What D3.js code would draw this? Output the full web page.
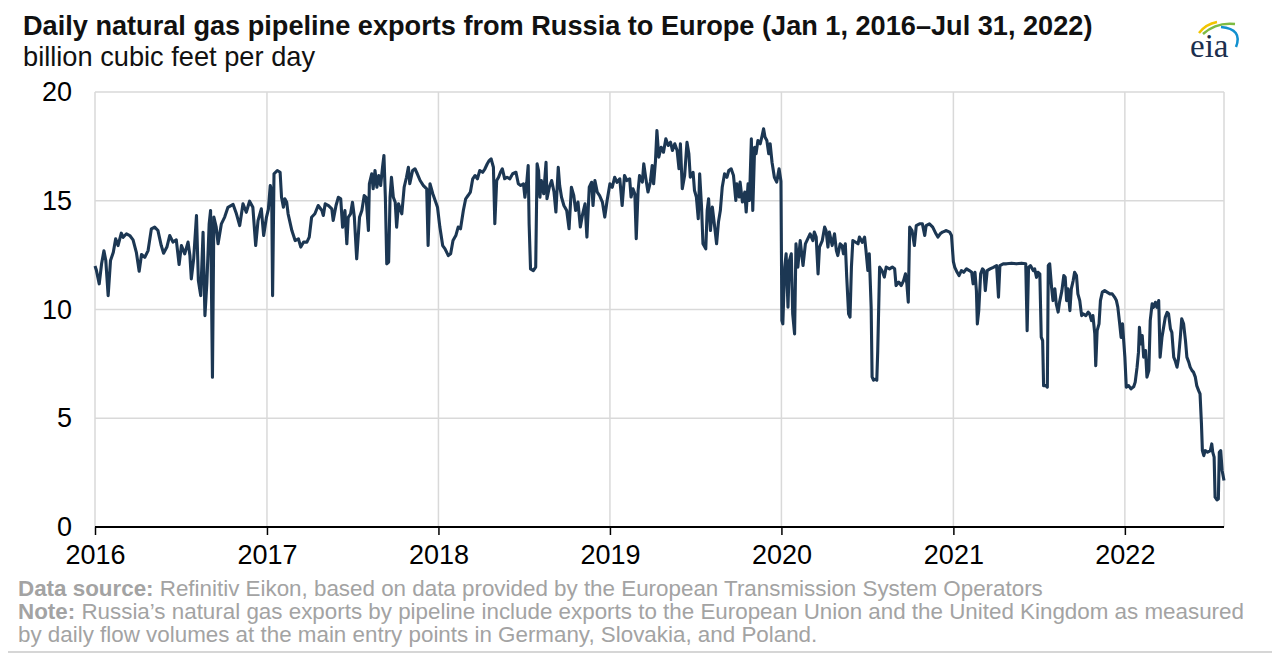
<!DOCTYPE html>
<html>
<head>
<meta charset="utf-8">
<script src="https://cdn.jsdelivr.net/npm/d3@7"></script>
<style>
  html, body { margin: 0; padding: 0; background: #fff; }
  svg { display: block; font-family: "Liberation Sans", Arial, sans-serif; }
</style>
</head>
<body>
<svg id="chart" width="1280" height="661"></svg>
<script>
// ---------------- data ----------------
const titleText = "Daily natural gas pipeline exports from Russia to Europe (Jan 1, 2016\u2013Jul 31, 2022)";
const subtitleText = "billion cubic feet per day";
const sourceLabel = "Data source:";
const sourceText = " Refinitiv Eikon, based on data provided by the European Transmission System Operators";
const noteLabel = "Note:";
const noteLine1 = " Russia\u2019s natural gas exports by pipeline include exports to the European Union and the United Kingdom as measured";
const noteLine2 = "by daily flow volumes at the main entry points in Germany, Slovakia, and Poland.";

const yearTickLabels = ["2016", "2017", "2018", "2019", "2020", "2021", "2022"];
const yTickValues = [0, 5, 10, 15, 20];

const y2016 = [
  ["2016-01-01",12.0],["2016-01-04",11.8],["2016-01-10",11.18],["2016-01-15",12.1],["2016-01-20",12.7],
  ["2016-01-24",12.25],["2016-01-29",10.64],["2016-02-03",12.25],["2016-02-09",12.63],["2016-02-14",13.25],
  ["2016-02-19",12.94],["2016-02-26",13.51],["2016-03-01",13.32],["2016-03-08",13.48],["2016-03-15",13.4],
  ["2016-03-22",13.2],["2016-03-29",12.63],["2016-04-04",11.76],["2016-04-09",12.53],["2016-04-16",12.4],
  ["2016-04-23",12.71],["2016-04-30",13.71],["2016-05-07",13.79],["2016-05-14",13.63],["2016-05-21",12.94],
  ["2016-05-26",12.59],["2016-06-02",12.87],["2016-06-08",13.4],["2016-06-15",13.1],["2016-06-22",13.2],
  ["2016-06-28",12.07],["2016-07-03",12.94],["2016-07-10",12.56],["2016-07-17",13.1],["2016-07-21",12.48],
  ["2016-07-24",11.41],["2016-07-29",12.33],["2016-08-04",14.32],["2016-08-08",11.33],["2016-08-13",10.64],
  ["2016-08-18",13.55],["2016-08-22",9.72],["2016-08-26",11.18],["2016-08-31",13.94],["2016-09-03",14.55],
  ["2016-09-07",6.89],["2016-09-10",14.25],["2016-09-15",13.79],["2016-09-19",13.02],["2016-09-26",13.94],
  ["2016-10-03",14.25],["2016-10-10",14.7],["2016-10-21",14.83],["2016-10-28",14.4],["2016-11-04",13.86],
  ["2016-11-11",14.86],["2016-11-18",14.47],["2016-11-25",14.98],["2016-12-02",14.7],["2016-12-08",12.94],
  ["2016-12-13",14.09],["2016-12-20",14.63],["2016-12-25",13.4],["2016-12-31",14.25]
];
const y2017 = [
  ["2017-01-04",14.6],["2017-01-08",15.7],["2017-01-11",15.47],["2017-01-13",10.64],["2017-01-16",16.24],
  ["2017-01-23",16.39],["2017-01-29",16.31],["2017-02-01",15.16],["2017-02-05",14.7],["2017-02-08",15.09],
  ["2017-02-12",14.93],["2017-02-15",14.4],["2017-02-23",13.63],["2017-03-02",13.17],["2017-03-09",13.25],
  ["2017-03-14",12.87],["2017-03-20",13.1],["2017-03-27",13.1],["2017-04-01",13.33],["2017-04-06",14.24],
  ["2017-04-13",14.4],["2017-04-20",14.78],["2017-04-28",14.55],["2017-05-01",14.32],["2017-05-05",14.86],
  ["2017-05-12",14.78],["2017-05-19",14.63],["2017-05-22",14.09],["2017-05-28",14.78],["2017-06-02",15.16],
  ["2017-06-07",15.09],["2017-06-11",13.78],["2017-06-16",14.55],["2017-06-20",13.02],["2017-06-23",14.24],
  ["2017-06-28",14.4],["2017-07-02",14.93],["2017-07-06",14.24],["2017-07-11",12.33],["2017-07-17",14.24],
  ["2017-07-22",14.55],["2017-07-27",15.24],["2017-07-31",15.16],["2017-08-05",13.63],["2017-08-07",15.78],
  ["2017-08-12",16.24],["2017-08-15",15.55],["2017-08-19",16.39],["2017-08-23",15.62],["2017-08-27",16.16],
  ["2017-08-31",15.7],["2017-09-04",16.54],["2017-09-07",17.08],["2017-09-10",15.16],["2017-09-13",12.1],
  ["2017-09-17",12.18],["2017-09-20",15.16],["2017-09-23",16.08],["2017-09-27",15.16],["2017-10-01",14.93],
  ["2017-10-04",13.78],["2017-10-08",14.86],["2017-10-15",14.4],["2017-10-20",15.62],["2017-10-25",16.08],
  ["2017-10-29",16.54],["2017-11-01",15.78],["2017-11-07",16.39],["2017-11-12",16.47],["2017-11-17",16.24],
  ["2017-11-23",15.93],["2017-11-30",15.7],["2017-12-07",15.55],["2017-12-10",12.94],["2017-12-14",15.78],
  ["2017-12-20",15.32],["2017-12-25",15.01],["2017-12-30",14.7]
];
const y2018 = [
  ["2018-01-04",13.79],["2018-01-10",12.94],["2018-01-15",12.79],["2018-01-22",12.48],["2018-01-27",12.56],
  ["2018-02-01",13.17],["2018-02-07",13.4],["2018-02-12",13.79],["2018-02-17",13.71],["2018-02-23",14.55],
  ["2018-02-28",15.09],["2018-03-05",15.24],["2018-03-10",15.4],["2018-03-15",16.01],["2018-03-20",16.16],
  ["2018-03-25",16.01],["2018-03-30",16.39],["2018-04-05",16.31],["2018-04-10",16.47],["2018-04-15",16.7],
  ["2018-04-19",16.85],["2018-04-23",16.93],["2018-04-28",16.54],["2018-05-01",13.94],["2018-05-05",15.93],
  ["2018-05-09",16.08],["2018-05-13",16.31],["2018-05-17",16.47],["2018-05-22",16.01],["2018-05-27",16.08],
  ["2018-06-02",16.01],["2018-06-08",16.24],["2018-06-15",16.31],["2018-06-20",15.78],["2018-06-25",15.7],
  ["2018-07-01",15.78],["2018-07-04",15.16],["2018-07-08",15.85],["2018-07-11",16.62],["2018-07-13",13.94],
  ["2018-07-16",11.87],["2018-07-22",11.79],["2018-07-27",11.95],["2018-07-30",16.7],["2018-08-02",16.39],
  ["2018-08-05",15.16],["2018-08-08",15.93],["2018-08-13",15.32],["2018-08-18",16.77],["2018-08-20",15.09],
  ["2018-08-25",15.62],["2018-08-30",15.93],["2018-09-04",15.4],["2018-09-08",14.48],["2018-09-13",16.54],
  ["2018-09-16",15.7],["2018-09-20",15.16],["2018-09-25",14.78],["2018-10-01",14.55],["2018-10-06",13.71],
  ["2018-10-11",15.62],["2018-10-16",15.24],["2018-10-20",14.55],["2018-10-25",14.94],["2018-10-30",13.79],
  ["2018-11-04",14.4],["2018-11-09",14.86],["2018-11-13",13.33],["2018-11-18",15.62],["2018-11-23",15.85],
  ["2018-11-26",14.78],["2018-11-30",15.93],["2018-12-05",15.4],["2018-12-10",15.24],["2018-12-16",14.94],
  ["2018-12-21",14.25],["2018-12-26",15.01]
];
const y2019 = [
  ["2019-01-01",15.78],["2019-01-06",15.62],["2019-01-11",16.08],["2019-01-16",15.85],["2019-01-22",16.01],
  ["2019-01-27",14.78],["2019-02-01",16.16],["2019-02-06",15.93],["2019-02-12",16.01],["2019-02-15",15.17],
  ["2019-02-19",15.55],["2019-02-23",15.32],["2019-02-26",13.25],["2019-03-02",15.47],["2019-03-05",16.16],
  ["2019-03-11",15.86],["2019-03-14",16.7],["2019-03-18",16.08],["2019-03-23",15.4],["2019-03-28",15.86],
  ["2019-04-01",16.62],["2019-04-04",15.78],["2019-04-08",16.85],["2019-04-11",18.23],["2019-04-15",17.0],
  ["2019-04-20",17.46],["2019-04-25",17.23],["2019-04-30",17.85],["2019-05-05",17.54],["2019-05-10",17.69],
  ["2019-05-14",17.31],["2019-05-19",17.62],["2019-05-24",17.31],["2019-05-28",16.47],["2019-05-31",17.62],
  ["2019-06-04",15.55],["2019-06-09",16.16],["2019-06-14",17.69],["2019-06-18",17.16],["2019-06-21",16.08],
  ["2019-06-27",16.31],["2019-06-30",15.47],["2019-07-04",15.17],["2019-07-08",14.17],["2019-07-11",16.24],
  ["2019-07-15",14.71],["2019-07-18",13.02],["2019-07-24",12.79],["2019-07-27",14.55],["2019-07-30",15.09],
  ["2019-08-03",13.63],["2019-08-07",14.71],["2019-08-12",13.79],["2019-08-16",13.02],["2019-08-20",14.02],
  ["2019-08-24",14.55],["2019-08-28",15.62],["2019-09-02",16.24],["2019-09-07",16.08],["2019-09-11",16.39],
  ["2019-09-16",16.47],["2019-09-21",16.16],["2019-09-26",15.01],["2019-09-28",15.78],["2019-10-03",15.17],
  ["2019-10-05",15.86],["2019-10-10",14.94],["2019-10-15",15.4],["2019-10-18",14.48],["2019-10-22",15.78],
  ["2019-10-25",15.01],["2019-10-29",17.85],["2019-11-01",14.55],["2019-11-05",17.46],["2019-11-08",17.16],
  ["2019-11-12",17.77],["2019-11-17",17.62],["2019-11-21",18.0],["2019-11-24",18.31],["2019-11-27",17.93],
  ["2019-12-01",17.77],["2019-12-05",17.16],["2019-12-08",17.62],["2019-12-12",16.77],["2019-12-17",16.08],
  ["2019-12-22",15.86],["2019-12-27",16.47],["2019-12-31",15.9]
];
const y2020 = [
  ["2020-01-02",9.49],["2020-01-04",9.34],["2020-01-08",11.95],["2020-01-11",12.56],["2020-01-15",10.11],
  ["2020-01-18",12.25],["2020-01-22",12.56],["2020-01-25",9.8],["2020-01-29",8.88],["2020-02-01",13.02],
  ["2020-02-05",11.95],["2020-02-10",13.17],["2020-02-16",12.02],["2020-02-21",13.02],["2020-02-26",13.25],
  ["2020-03-02",13.48],["2020-03-08",13.17],["2020-03-11",13.56],["2020-03-15",13.33],["2020-03-19",11.64],
  ["2020-03-22",12.87],["2020-03-28",13.17],["2020-04-02",13.79],["2020-04-05",13.63],["2020-04-09",12.87],
  ["2020-04-12",13.56],["2020-04-18",12.94],["2020-04-23",13.48],["2020-04-27",12.71],["2020-04-30",12.48],
  ["2020-05-05",13.02],["2020-05-09",12.94],["2020-05-12",12.56],["2020-05-16",13.02],["2020-05-19",11.49],
  ["2020-05-23",9.8],["2020-05-26",9.65],["2020-05-29",11.95],["2020-06-01",13.17],["2020-06-07",13.09],
  ["2020-06-12",13.02],["2020-06-15",13.33],["2020-06-21",13.09],["2020-06-26",13.33],["2020-06-29",12.71],
  ["2020-07-03",11.79],["2020-07-06",12.56],["2020-07-10",10.11],["2020-07-12",6.9],["2020-07-15",6.75],
  ["2020-07-19",6.8],["2020-07-22",6.75],["2020-07-24",8.1],["2020-07-28",11.95],["2020-08-02",11.79],
  ["2020-08-07",11.49],["2020-08-11",11.95],["2020-08-18",11.87],["2020-08-24",11.95],["2020-08-29",11.87],
  ["2020-09-01",11.1],["2020-09-07",11.26],["2020-09-12",11.1],["2020-09-17",11.33],["2020-09-21",11.64],
  ["2020-09-24",11.18],["2020-09-27",10.34],["2020-09-30",13.79],["2020-10-05",13.63],["2020-10-10",12.94],
  ["2020-10-14",13.86],["2020-10-21",13.94],["2020-10-27",13.94],["2020-11-01",13.4],["2020-11-04",13.86],
  ["2020-11-11",13.94],["2020-11-18",13.79],["2020-11-25",13.48],["2020-11-29",13.33],["2020-12-04",13.48],
  ["2020-12-09",13.56],["2020-12-17",13.63],["2020-12-24",13.56],["2020-12-28",13.4]
];
const y2021 = [
  ["2021-01-01",12.2],["2021-01-04",11.94],["2021-01-09",11.71],["2021-01-13",11.56],["2021-01-18",11.79],
  ["2021-01-23",11.71],["2021-01-29",11.87],["2021-02-04",11.79],["2021-02-09",11.71],["2021-02-12",11.18],
  ["2021-02-16",11.71],["2021-02-19",10.87],["2021-02-21",9.34],["2021-02-24",9.95],["2021-02-28",11.64],
  ["2021-03-04",11.87],["2021-03-07",11.79],["2021-03-10",10.87],["2021-03-14",11.79],["2021-03-20",11.87],
  ["2021-03-27",11.94],["2021-04-03",12.02],["2021-04-07",10.57],["2021-04-10",12.02],["2021-04-17",12.1],
  ["2021-04-24",12.1],["2021-05-05",12.13],["2021-05-15",12.1],["2021-05-26",12.13],["2021-06-04",12.1],
  ["2021-06-07",9.03],["2021-06-10",11.94],["2021-06-14",12.02],["2021-06-20",11.79],["2021-06-23",11.87],
  ["2021-06-27",11.48],["2021-06-30",11.71],["2021-07-04",11.64],["2021-07-07",8.73],["2021-07-10",8.57],
  ["2021-07-12",6.5],["2021-07-17",6.5],["2021-07-20",6.43],["2021-07-22",12.02],["2021-07-25",12.1],
  ["2021-07-29",11.02],["2021-08-01",10.41],["2021-08-05",10.95],["2021-08-08",10.26],["2021-08-12",9.88],
  ["2021-08-15",10.34],["2021-08-20",10.87],["2021-08-24",11.56],["2021-08-27",11.48],["2021-08-30",10.41],
  ["2021-09-02",10.95],["2021-09-06",9.95],["2021-09-09",10.95],["2021-09-13",11.33],["2021-09-16",11.71],
  ["2021-09-20",11.56],["2021-09-23",10.72],["2021-09-27",10.41],["2021-10-01",9.72],["2021-10-04",9.8],
  ["2021-10-10",9.72],["2021-10-15",9.88],["2021-10-18",9.8],["2021-10-22",9.49],["2021-10-25",9.72],
  ["2021-10-29",8.88],["2021-10-31",7.42],["2021-11-03",9.03],["2021-11-07",9.34],["2021-11-10",10.41],
  ["2021-11-14",10.8],["2021-11-19",10.87],["2021-11-24",10.8],["2021-11-30",10.72],["2021-12-05",10.72],
  ["2021-12-10",10.57],["2021-12-14",10.41],["2021-12-17",10.11],["2021-12-21",9.34],["2021-12-24",8.72],
  ["2021-12-27",9.34],["2021-12-29",8.72]
];
const y2022 = [
  ["2022-01-01",7.81],["2022-01-04",6.43],["2022-01-09",6.5],["2022-01-14",6.35],["2022-01-20",6.46],
  ["2022-01-23",6.66],["2022-01-27",7.35],["2022-01-30",8.04],["2022-02-01",9.18],["2022-02-04",8.42],
  ["2022-02-07",8.8],["2022-02-10",7.81],["2022-02-14",8.11],["2022-02-17",6.89],["2022-02-21",7.19],
  ["2022-02-24",9.49],["2022-02-28",10.26],["2022-03-03",10.1],["2022-03-07",10.33],["2022-03-10",10.1],
  ["2022-03-14",10.41],["2022-03-17",7.81],["2022-03-21",8.72],["2022-03-24",9.11],["2022-03-28",9.64],
  ["2022-04-01",9.87],["2022-04-04",9.8],["2022-04-08",9.11],["2022-04-11",8.95],["2022-04-15",7.81],
  ["2022-04-18",7.65],["2022-04-22",7.35],["2022-04-25",7.73],["2022-04-29",8.72],["2022-05-02",9.57],
  ["2022-05-06",9.34],["2022-05-10",8.57],["2022-05-13",7.81],["2022-05-17",7.58],["2022-05-20",7.35],
  ["2022-05-24",7.19],["2022-05-27",7.12],["2022-05-31",6.89],["2022-06-03",6.5],["2022-06-07",6.27],
  ["2022-06-10",6.12],["2022-06-13",4.74],["2022-06-15",3.51],["2022-06-18",3.28],["2022-06-21",3.51],
  ["2022-06-26",3.44],["2022-07-02",3.51],["2022-07-05",3.82],["2022-07-07",3.44],["2022-07-10",3.21],
  ["2022-07-12",1.37],["2022-07-16",1.25],["2022-07-19",1.29],["2022-07-21",3.44],["2022-07-24",3.51],
  ["2022-07-27",2.6],["2022-07-31",2.14]
];

// ---------------- drawing ----------------
const parse = d3.utcParse("%Y-%m-%d");
const series = [].concat(y2016, y2017, y2018, y2019, y2020, y2021, y2022)
  .map(([d, v]) => ({ date: parse(d), value: v }));

const svg = d3.select("#chart");
const plot = { left: 95, right: 1224, top: 92, bottom: 527 };

const x = d3.scaleUtc()
  .domain([parse("2016-01-01"), parse("2022-07-31")])
  .range([plot.left, plot.right]);
const y = d3.scaleLinear().domain([0, 20]).range([plot.bottom, plot.top]);

const yearDates = yearTickLabels.map(t => parse(t + "-01-01"));

// gridlines
const grid = svg.append("g").attr("stroke", "#d9d9d9").attr("stroke-width", 1.5);
grid.selectAll(".hg").data(yTickValues.filter(v => v > 0)).join("line")
  .attr("x1", plot.left).attr("x2", plot.right)
  .attr("y1", d => y(d)).attr("y2", d => y(d));
grid.selectAll(".vg").data(yearDates).join("line")
  .attr("x1", d => x(d)).attr("x2", d => x(d))
  .attr("y1", plot.top).attr("y2", plot.bottom);
grid.append("line").attr("x1", plot.right).attr("x2", plot.right)
  .attr("y1", plot.top).attr("y2", plot.bottom);

// y axis
const yAxis = svg.append("g")
  .attr("transform", `translate(${plot.left},0)`)
  .call(d3.axisLeft(y).tickValues(yTickValues).tickSize(0).tickPadding(23));
yAxis.select(".domain").remove();
yAxis.selectAll("text").attr("font-size", 27).attr("fill", "#000")
  .attr("font-family", "Liberation Sans, Arial, sans-serif");

// x axis
const xAxis = svg.append("g")
  .attr("transform", `translate(0,${plot.bottom})`)
  .call(d3.axisBottom(x).tickValues(yearDates)
    .tickFormat((d, i) => yearTickLabels[i]).tickSize(8).tickPadding(10));
xAxis.select(".domain").attr("stroke", "#000").attr("stroke-width", 2)
  .attr("d", `M${plot.left},0H${plot.right}`);
xAxis.selectAll(".tick line").attr("stroke", "#000").attr("stroke-width", 1.5);
xAxis.selectAll("text").attr("font-size", 27).attr("fill", "#000")
  .attr("font-family", "Liberation Sans, Arial, sans-serif");

// data line
svg.append("path").datum(series)
  .attr("fill", "none")
  .attr("stroke", "#1c3753")
  .attr("stroke-width", 3.1)
  .attr("stroke-linejoin", "round")
  .attr("d", d3.line().x(d => x(d.date)).y(d => y(d.value)));

// text helpers: fit to measured width in the reference
function fit(sel, target) {
  const fs = parseFloat(sel.attr("font-size"));
  const w = sel.node().getComputedTextLength();
  sel.attr("font-size", (fs * target / w).toFixed(2));
}

const title = svg.append("text").attr("x", 23).attr("y", 35)
  .attr("font-size", 23).attr("font-weight", "bold").attr("fill", "#111")
  .text(titleText);
fit(title, 1070);

const sub = svg.append("text").attr("x", 23).attr("y", 66)
  .attr("font-size", 23).attr("fill", "#111").text(subtitleText);
fit(sub, 292);

const footColor = "#a3a3a3";
const ds = svg.append("text").attr("x", 18).attr("y", 596)
  .attr("font-size", 19).attr("fill", footColor);
ds.append("tspan").attr("font-weight", "bold").text(sourceLabel);
ds.append("tspan").text(sourceText);

const n1 = svg.append("text").attr("x", 18).attr("y", 619)
  .attr("font-size", 19).attr("fill", footColor);
n1.append("tspan").attr("font-weight", "bold").text(noteLabel);
n1.append("tspan").text(noteLine1);
fit(n1, 1227);
const footSize = n1.attr("font-size");
ds.attr("font-size", footSize);

svg.append("text").attr("x", 18).attr("y", 642)
  .attr("font-size", footSize).attr("fill", footColor).text(noteLine2);

svg.append("line").attr("x1", 8).attr("x2", 1272).attr("y1", 652).attr("y2", 652)
  .attr("stroke", "#d6d6d6").attr("stroke-width", 2);

// EIA logo
const logo = svg.append("g");
logo.append("path").attr("d", "M1199,33 Q1206,24 1217,22")
  .attr("fill", "none").attr("stroke", "#f2c500").attr("stroke-width", 2.5);
logo.append("path").attr("d", "M1203,34 Q1216,22 1235,24")
  .attr("fill", "none").attr("stroke", "#7dbb42").attr("stroke-width", 2.5);
logo.append("path").attr("d", "M1221,27 Q1243,29 1236,47")
  .attr("fill", "none").attr("stroke", "#1190cf").attr("stroke-width", 2.5);
logo.append("text").attr("x", 1190).attr("y", 57)
  .attr("font-family", "Liberation Serif, Times New Roman, serif")
  .attr("font-size", 33).attr("fill", "#1b2f4e").text("eia");
</script>
</body>
</html>
